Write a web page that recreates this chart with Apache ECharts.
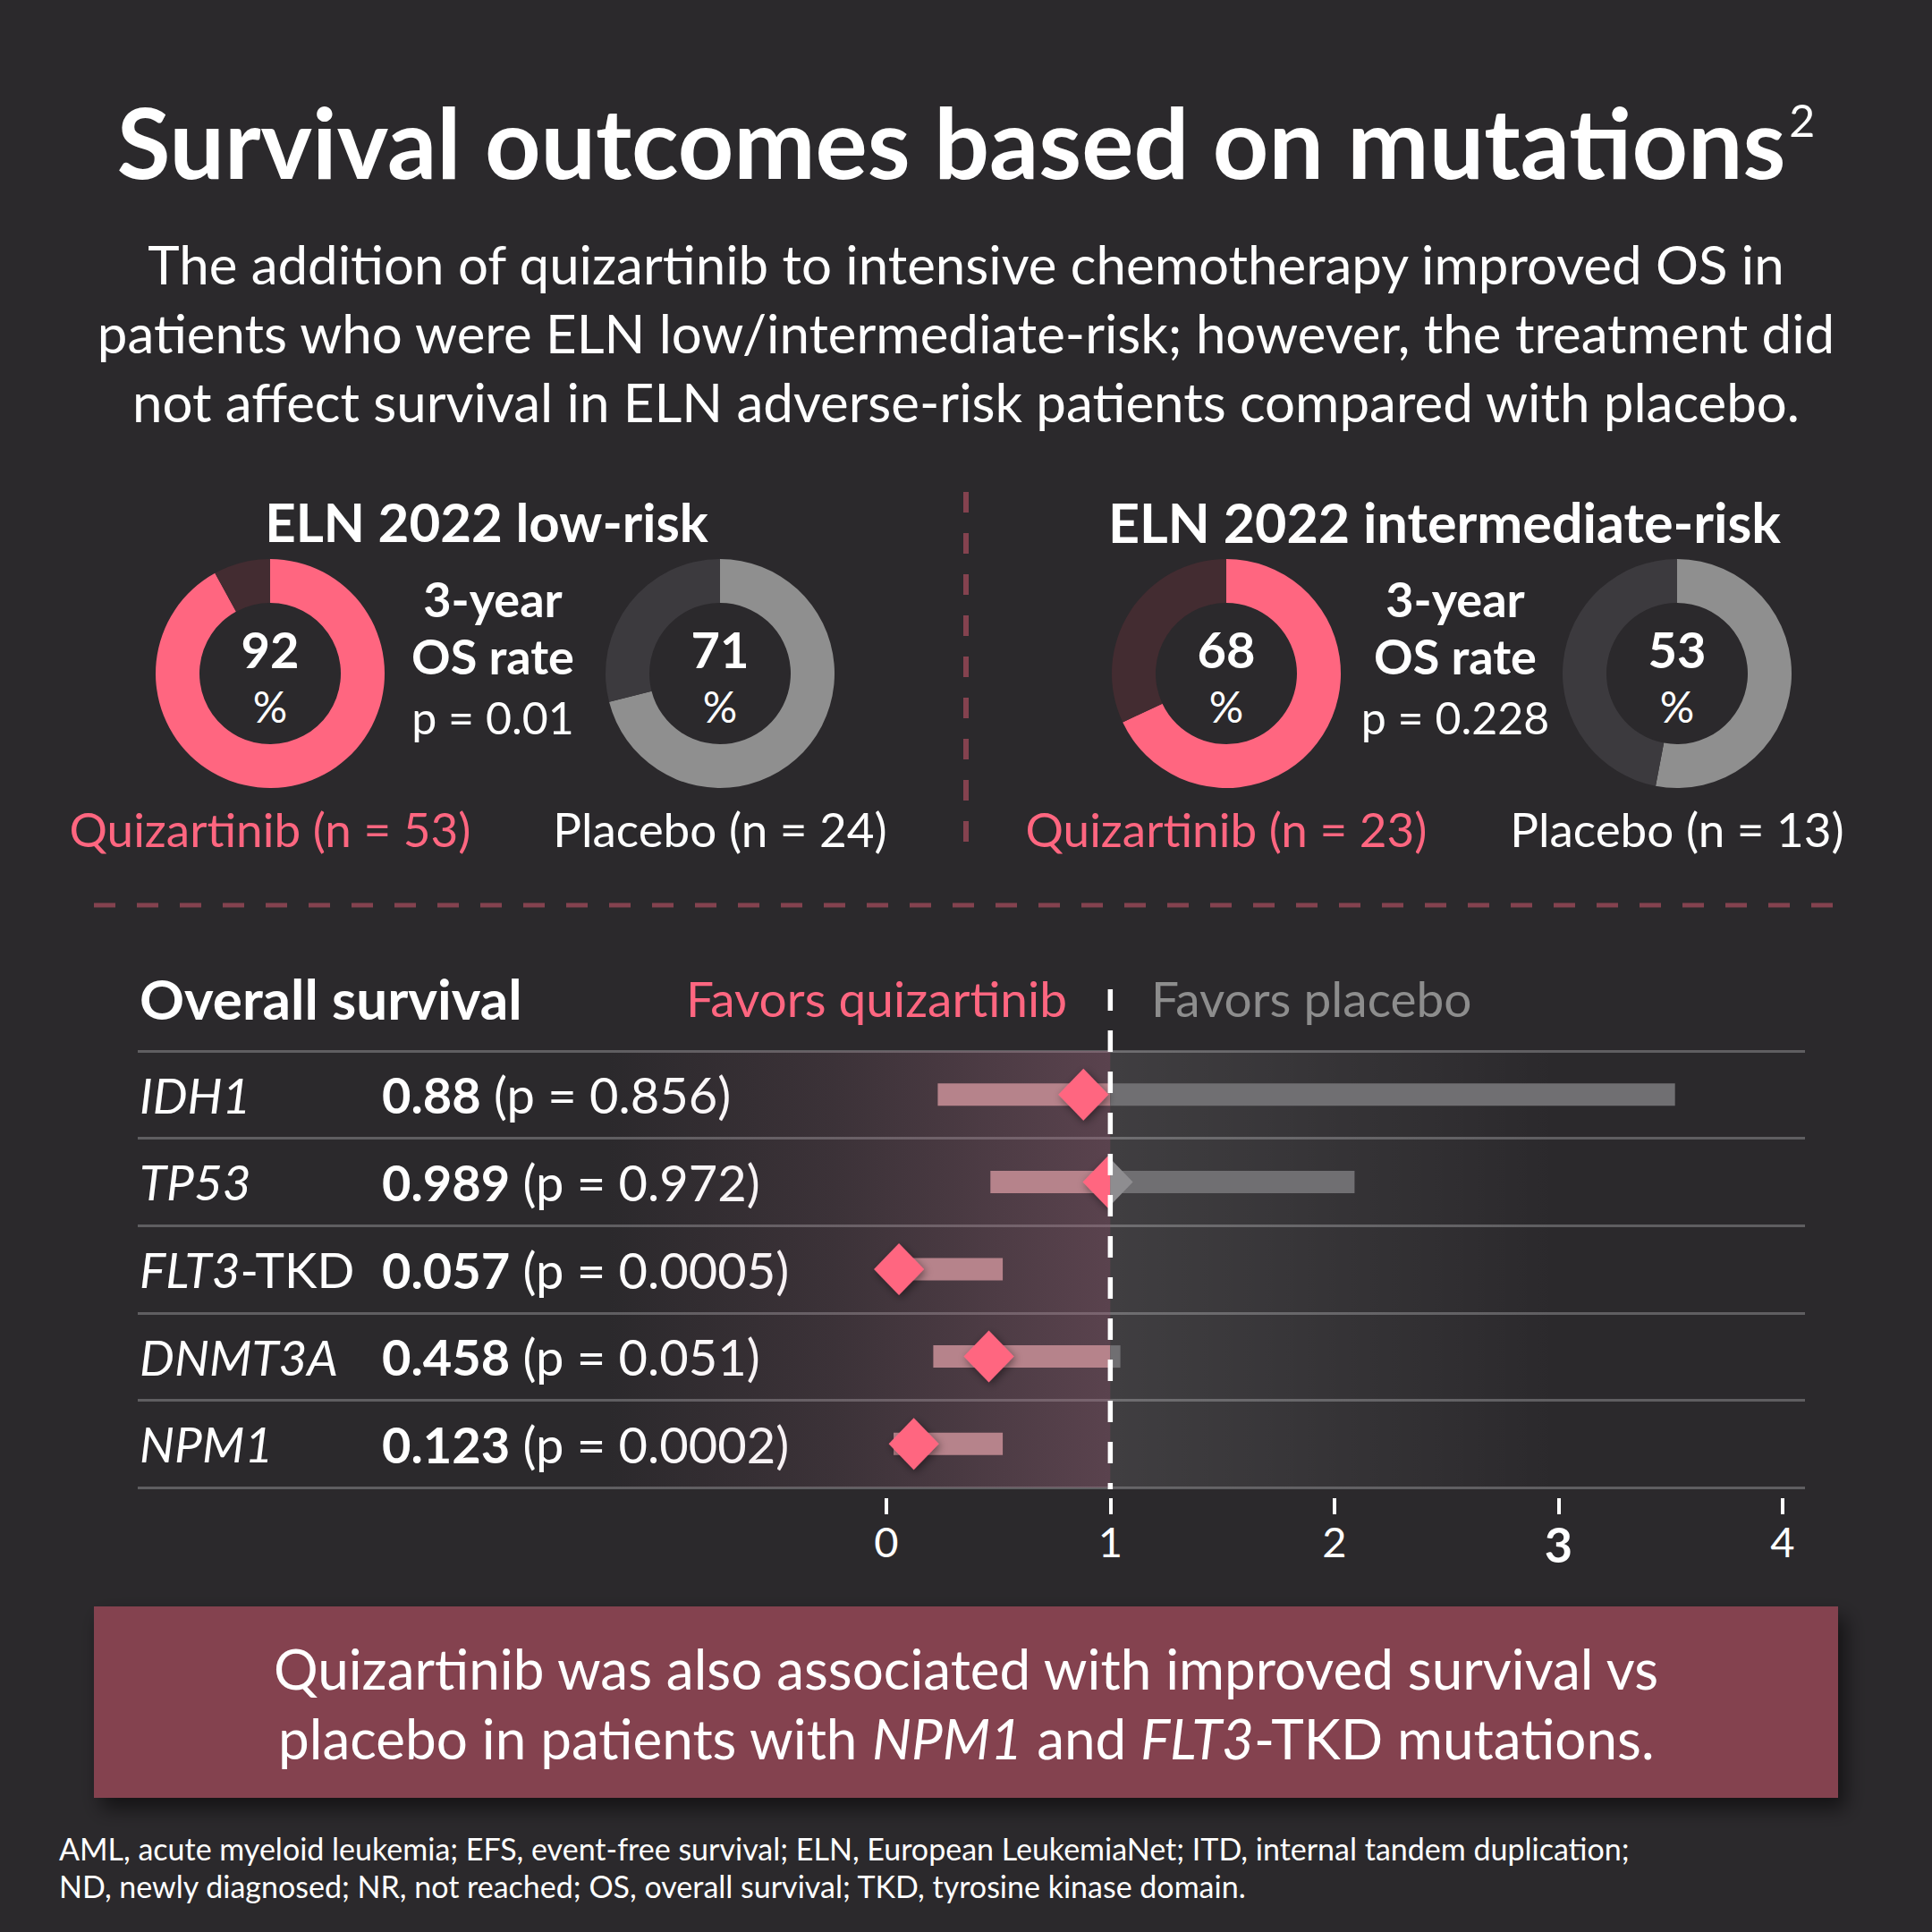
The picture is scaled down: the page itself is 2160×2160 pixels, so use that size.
<!DOCTYPE html>
<html>
<head>
<meta charset="utf-8">
<script src="https://cdn.jsdelivr.net/npm/echarts@6/dist/echarts.min.js"></script>
<style>
html,body{margin:0;padding:0;background:#2b292c;}
#chart{width:2160px;height:2160px;}
</style>
</head>
<body>
<div id="chart"></div>
<script>
// ---------------- DATA ----------------
const titleText = 'Survival outcomes based on mutations';
const titleSup = '2';
const subtitleLines = [
  'The addition of quizartinib to intensive chemotherapy improved OS in',
  'patients who were ELN low/intermediate-risk; however, the treatment did',
  'not affect survival in ELN adverse-risk patients compared with placebo.'
];
const groupNames = ['ELN 2022 low-risk', 'ELN 2022 intermediate-risk'];
const quizRates = [92, 68];
const placeboRates = [71, 53];
const rateLabel = ['3-year', 'OS rate'];
const rateP = ['p = 0.01', 'p = 0.228'];
const quizN = [53, 23];
const placeboN = [24, 13];

const genes = ['IDH1', 'TP53', 'FLT3-TKD', 'DNMT3A', 'NPM1'];
const hazardRatios = [0.88, 0.989, 0.057, 0.458, 0.123];
const hrPValues = ['0.856', '0.972', '0.0005', '0.051', '0.0002'];
const ciLow = [0.23, 0.465, 0.01, 0.21, 0.033];
const ciHigh = [3.52, 2.09, 0.52, 1.045, 0.52];
const xTicks = [0, 1, 2, 3, 4];
const refValue = 1;

const boxLines = ['Quizartinib was also associated with improved survival vs',
                  'placebo in patients with |NPM1| and |FLT3|-TKD mutations.'];
const footerLines = [
  'AML, acute myeloid leukemia; EFS, event-free survival; ELN, European LeukemiaNet; ITD, internal tandem duplication;',
  'ND, newly diagnosed; NR, not reached; OS, overall survival; TKD, tyrosine kinase domain.'
];

// ---------------- STYLE ----------------
const F = 'Lato';
const BG = '#2b292c';
const PINK = '#ff6680';
const PINK_REST = '#432c31';
const GRAY = '#8f8f8f';
const GRAY_REST = '#3c3a3e';
const WHITE = '#ffffff';
const MAROON = '#84424f';
const X_MIN = -3.34, X_MAX = 4.1;
const SHADE_L = -1.25, SHADE_R = 3.0;

const chart = echarts.init(document.getElementById('chart'), null, {renderer: 'svg', width: 2160, height: 2160});

function donut(center, value, color, rest) {
  return {
    type: 'pie', center: center, radius: [79, 128], startAngle: 90, clockwise: true,
    silent: true, animation: false, avoidLabelOverlap: false,
    itemStyle: {borderWidth: 0},
    label: {show: false}, labelLine: {show: false}, emphasis: {disabled: true},
    data: [
      {value: value, itemStyle: {color: color},
       label: {show: true, position: 'center', offset: [0, 4], formatter: '{n|' + value + '}\n{p|%}',
         rich: {
           n: {fontFamily: F, fontWeight: 'bold', fontSize: 56, color: WHITE, lineHeight: 64},
           p: {fontFamily: F, fontSize: 48, color: WHITE, lineHeight: 64}
         }}},
      {value: 100 - value, itemStyle: {color: rest}, label: {show: false}}
    ]
  };
}

function txt(x, y, text, opt) {
  return {type: 'text', x: x, y: y, silent: true,
    style: Object.assign({text: text, fill: WHITE, font: '52px ' + F, align: 'center', verticalAlign: 'middle'}, opt || {})};
}

const colX = [551, 1627];
const quizCx = [302, 1371];
const placCx = [805, 1875];
const graphics = [];

// title with superscript
graphics.push({type: 'text', x: 1080, y: 157, silent: true, style: {
  text: '{t|' + titleText + '}{s|' + titleSup + '}', align: 'center', verticalAlign: 'middle',
  rich: {
    t: {fontFamily: F, fontWeight: 'bold', fontSize: 109, fill: WHITE, color: WHITE, align: 'center'},
    s: {fontFamily: F, fontSize: 50, fill: WHITE, color: WHITE, verticalAlign: 'top', align: 'center', padding: [6, 0, 0, 4]}
  }}});
graphics.push(txt(1080, 372, subtitleLines.join('\n'), {font: '60px ' + F, lineHeight: 77}));

groupNames.forEach(function (g, k) {
  graphics.push(txt(k === 0 ? 544 : 1615, 583, g, {font: 'bold ' + (k === 0 ? 60 : 61) + 'px ' + F}));
  graphics.push(txt(colX[k], 669, rateLabel[0], {font: 'bold 54px ' + F}));
  graphics.push(txt(colX[k], 733, rateLabel[1], {font: 'bold 54px ' + F}));
  graphics.push(txt(colX[k], 802, rateP[k], {font: '50px ' + F}));
  graphics.push(txt(quizCx[k], 926, 'Quizartinib (n = ' + quizN[k] + ')', {fill: PINK, font: '53px ' + F}));
  graphics.push(txt(placCx[k], 926, 'Placebo (n = ' + placeboN[k] + ')', {font: '53px ' + F}));
});

// dividers
graphics.push({type: 'line', silent: true, shape: {x1: 1080, y1: 550, x2: 1080, y2: 944},
  style: {stroke: MAROON, lineWidth: 6, lineDash: [23, 23]}});
graphics.push({type: 'line', silent: true, shape: {x1: 105, y1: 1012, x2: 2055, y2: 1012},
  style: {stroke: MAROON, lineWidth: 5, lineDash: [24, 24]}});

// forest header
graphics.push(txt(156, 1116, 'Overall survival', {font: 'bold 62px ' + F, align: 'left'}));
graphics.push(txt(1193, 1116, 'Favors quizartinib', {fill: PINK, font: '55px ' + F, align: 'right'}));
graphics.push(txt(1287, 1116, 'Favors placebo', {fill: '#8d8d8d', font: '55px ' + F, align: 'left'}));

// bottom box
graphics.push({type: 'rect', silent: true, shape: {x: 105, y: 1796, width: 1950, height: 214},
  style: {fill: MAROON, shadowBlur: 22, shadowOffsetX: 8, shadowOffsetY: 12, shadowColor: 'rgba(0,0,0,0.55)'}});
function richLine(line) {
  return line.split('|').map(function (seg, j) {
    return (j % 2 === 1 ? '{i|' : '{r|') + seg + '}';
  }).join('');
}
graphics.push({type: 'text', x: 1080, y: 1904, silent: true, style: {
  text: boxLines.map(richLine).join('\n'), align: 'center', verticalAlign: 'middle',
  rich: {
    r: {fontFamily: F, fontSize: 62, fill: WHITE, color: WHITE, lineHeight: 78, align: 'center'},
    i: {fontFamily: F, fontSize: 62, fontStyle: 'italic', fill: WHITE, color: WHITE, lineHeight: 78, align: 'center'}
  }}});
graphics.push(txt(66, 2087, footerLines.join('\n'), {font: '34px ' + F, align: 'left', lineHeight: 42}));

// ---------------- FOREST ----------------
function geneLabel(g) {
  if (g.indexOf('-') > 0) {
    const p = g.split('-');
    return '{i|' + p[0] + '}{r|-' + p[1] + '}';
  }
  return '{i|' + g + '}';
}

const forestData = genes.map(function (g, i) { return [i, ciLow[i], ciHigh[i], hazardRatios[i]]; });

const option = {
  backgroundColor: BG,
  animation: false,
  graphic: graphics,
  grid: [
    {left: 154, right: 142, top: 1175, height: 488},
    {left: 427, right: 142, top: 1175, height: 488},
    {left: 154, right: 142, top: 1106, bottom: 2160 - 1665}
  ],
  xAxis: [
    {gridIndex: 0, type: 'value', min: X_MIN, max: X_MAX, offset: 12,
     axisLine: {show: false}, splitLine: {show: false},
     axisTick: {show: true, customValues: xTicks, length: 18, lineStyle: {color: WHITE, width: 4}},
     axisLabel: {customValues: xTicks, margin: 24, color: WHITE, fontFamily: F, fontSize: 47,
       formatter: function (v) { return v === 3 ? '{b|3}' : String(v); },
       rich: {b: {fontFamily: F, fontSize: 54, fontWeight: 'bold', color: WHITE}}}},
    {gridIndex: 1, type: 'value', show: false, min: 0, max: 1},
    {gridIndex: 2, type: 'value', show: false, min: X_MIN, max: X_MAX}
  ],
  yAxis: [
    {gridIndex: 0, type: 'category', data: genes, inverse: true,
     axisLine: {show: false}, axisTick: {show: false},
     splitLine: {show: true, lineStyle: {color: '#5f5e61', width: 3}},
     axisLabel: {inside: true, margin: 2, interval: 0, formatter: geneLabel,
       rich: {
         i: {fontFamily: F, fontStyle: 'italic', fontSize: 55, color: WHITE},
         r: {fontFamily: F, fontSize: 55, color: WHITE}
       }}},
    {gridIndex: 1, type: 'category', data: genes, inverse: true,
     axisLine: {show: false}, axisTick: {show: false}, splitLine: {show: false},
     axisLabel: {inside: true, margin: 0, interval: 0,
       formatter: function (v, idx) { return '{b|' + hazardRatios[idx] + '}{r| (p = ' + hrPValues[idx] + ')}'; },
       rich: {
         b: {fontFamily: F, fontWeight: 'bold', fontSize: 56, color: WHITE},
         r: {fontFamily: F, fontSize: 56, color: WHITE}
       }}},
    {gridIndex: 2, type: 'value', show: false, min: 0, max: 1}
  ],
  series: [
    {
      type: 'custom', name: 'shade', xAxisIndex: 0, yAxisIndex: 0, silent: true, z: 1,
      data: genes.map(function (g, i) { return [i, refValue]; }),
      encode: {y: 0, x: 1},
      renderItem: function (params, api) {
        const i = api.value(0);
        const h = api.size([0, 1])[1];
        const cy = api.coord([0, i])[1];
        const l = api.coord([SHADE_L, i])[0];
        const m = api.coord([api.value(1), i])[0];
        const r = api.coord([SHADE_R, i])[0];
        return {type: 'group', children: [
          {type: 'rect', shape: {x: l, y: cy - h / 2, width: m - l, height: h},
           style: {fill: {type: 'linear', x: 0, y: 0, x2: 1, y2: 0, colorStops: [
             {offset: 0, color: 'rgba(170,110,135,0)'},
             {offset: 0.45, color: 'rgba(170,110,135,0.13)'},
             {offset: 1, color: 'rgba(170,110,135,0.37)'}]}}},
          {type: 'rect', shape: {x: m, y: cy - h / 2, width: r - m, height: h},
           style: {fill: {type: 'linear', x: 0, y: 0, x2: 1, y2: 0, colorStops: [
             {offset: 0, color: 'rgba(255,255,255,0.1)'},
             {offset: 1, color: 'rgba(255,255,255,0)'}]}}}
        ]};
      }
    },
    {
      type: 'custom', name: 'hr', xAxisIndex: 0, yAxisIndex: 0, silent: true, z: 3,
      data: forestData,
      encode: {y: 0, x: [1, 2, 3]},
      renderItem: function (params, api) {
        const i = api.value(0);
        const lo = api.coord([api.value(1), i]);
        const hi = api.coord([api.value(2), i]);
        const one = api.coord([refValue, i]);
        const c = api.coord([api.value(3), i]);
        const cy = c[1], bh = 25, hw = 28, hh = 29;
        const ch = [];
        const pe = Math.min(hi[0], one[0]);
        if (pe > lo[0]) ch.push({type: 'rect', shape: {x: lo[0], y: cy - bh / 2, width: pe - lo[0], height: bh}, style: {fill: '#b6838b'}});
        if (hi[0] > one[0]) {
          const s = Math.max(lo[0], one[0]);
          ch.push({type: 'rect', shape: {x: s, y: cy - bh / 2, width: hi[0] - s, height: bh}, style: {fill: '#706f72'}});
        }
        const pts = [[c[0], cy - hh], [c[0] + hw, cy], [c[0], cy + hh], [c[0] - hw, cy]];
        const dia = {type: 'polygon', shape: {points: pts},
          style: {fill: PINK, shadowBlur: 10, shadowOffsetX: 2, shadowOffsetY: 3, shadowColor: 'rgba(0,0,0,0.45)'}};
        if (c[0] + hw > one[0]) {
          dia.clipPath = {type: 'rect', shape: {x: c[0] - hw - 20, y: cy - hh - 20, width: one[0] - (c[0] - hw - 20), height: 2 * hh + 40}};
          ch.push(dia);
          ch.push({type: 'polygon', shape: {points: pts}, style: {fill: '#8e8d90'},
            clipPath: {type: 'rect', shape: {x: one[0], y: cy - hh - 20, width: 2 * hw + 20, height: 2 * hh + 40}}});
        } else {
          ch.push(dia);
        }
        return {type: 'group', children: ch};
      }
    },
    {
      type: 'line', name: 'ref', xAxisIndex: 2, yAxisIndex: 2, silent: true, z: 10,
      data: [[refValue, 1], [refValue, 0]], symbol: 'none',
      lineStyle: {color: WHITE, width: 5.5, type: [24, 22]}
    },
    donut([quizCx[0], 753], quizRates[0], PINK, PINK_REST),
    donut([placCx[0], 753], placeboRates[0], GRAY, GRAY_REST),
    donut([quizCx[1], 753], quizRates[1], PINK, PINK_REST),
    donut([placCx[1], 753], placeboRates[1], GRAY, GRAY_REST)
  ]
};
chart.setOption(option);
</script>
</body>
</html>
